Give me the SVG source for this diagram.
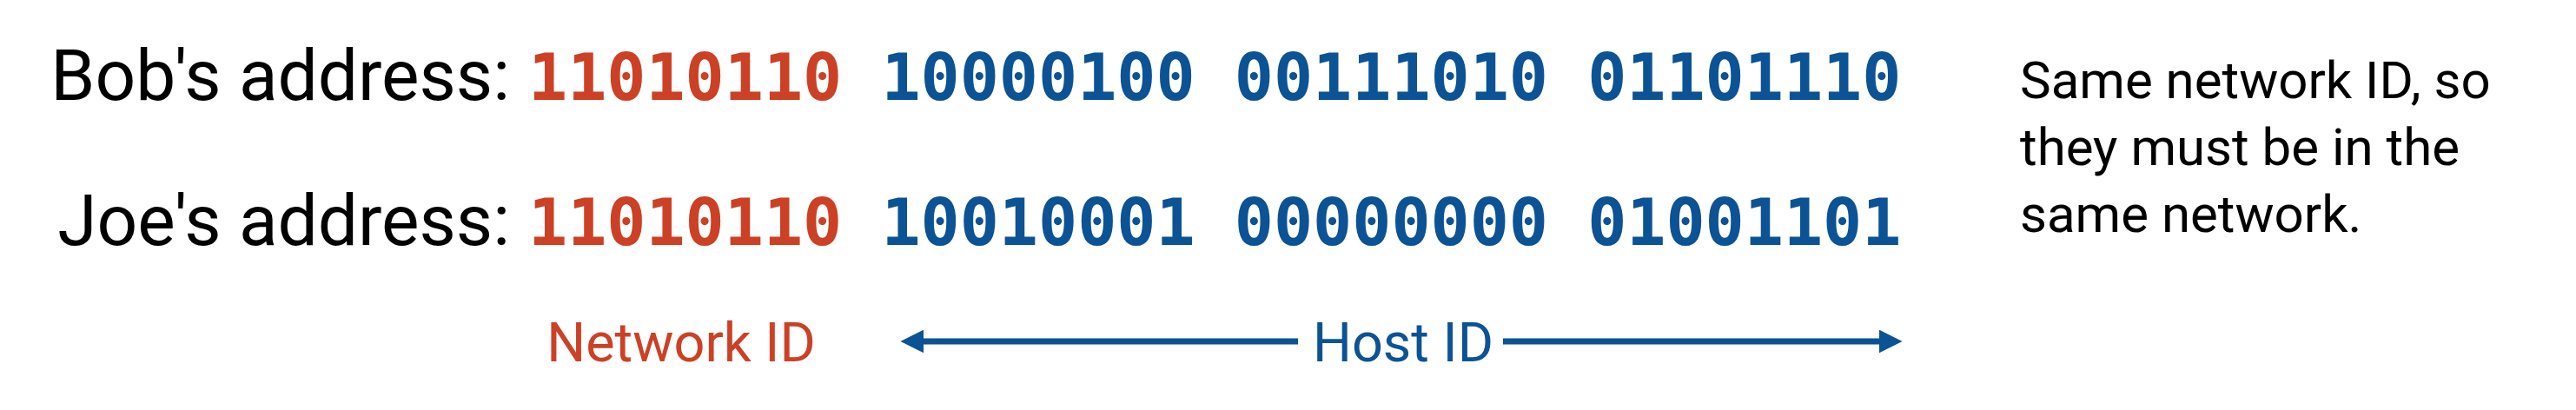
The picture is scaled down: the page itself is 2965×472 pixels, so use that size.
<svg xmlns="http://www.w3.org/2000/svg" width="2965" height="472" viewBox="0 0 2965 472">
<style>
.lbl{font-family:Roboto,"Liberation Sans",sans-serif;font-size:82px;fill:#000}
.bits{font-family:"DejaVu Sans Mono","Liberation Mono",monospace;font-weight:bold;font-size:75px}
.net{fill:#cc4125}
.host{fill:#0b5394}
.note{font-family:Roboto,"Liberation Sans",sans-serif;font-size:60px;fill:#000}
.cap{font-family:Roboto,"Liberation Sans",sans-serif;font-size:63px}
.arr{stroke:#0b5394;stroke-width:7;fill:none}
</style>
<defs>
<marker id="ah" viewBox="0 0 10 10" refX="2" refY="5" markerUnits="userSpaceOnUse" markerWidth="27" markerHeight="27" orient="auto-start-reverse">
<path d="M0,0 L10,5 L0,10 Z" fill="#0b5394"/>
</marker>
</defs>
<g id="bob">
<text class="lbl" x="587" y="115" text-anchor="end">Bob's address:</text>
<text class="bits" x="608" y="115"><tspan class="net">11010110</tspan><tspan class="host"> 10000100 00111010 01101110</tspan></text>
</g>
<g id="joe">
<text class="lbl" x="587" y="282" text-anchor="end">Joe's address:</text>
<text class="bits" x="608" y="282"><tspan class="net">11010110</tspan><tspan class="host"> 10010001 00000000 01001101</tspan></text>
</g>
<g id="note">
<text class="note" x="2325" y="113">Same network ID, so</text>
<text class="note" x="2325" y="190">they must be in the</text>
<text class="note" x="2325" y="267">same network.</text>
</g>
<g id="network-id">
<text class="cap net" x="784" y="416" text-anchor="middle">Network ID</text>
</g>
<g id="host-id">
<text class="cap host" x="1615" y="416" text-anchor="middle">Host ID</text>
</g>
<g id="connectors">
<path class="arr" d="M1494,393 L1058,393" marker-end="url(#ah)"/>
<path class="arr" d="M1730,393 L2168,393" marker-end="url(#ah)"/>
</g>
</svg>
